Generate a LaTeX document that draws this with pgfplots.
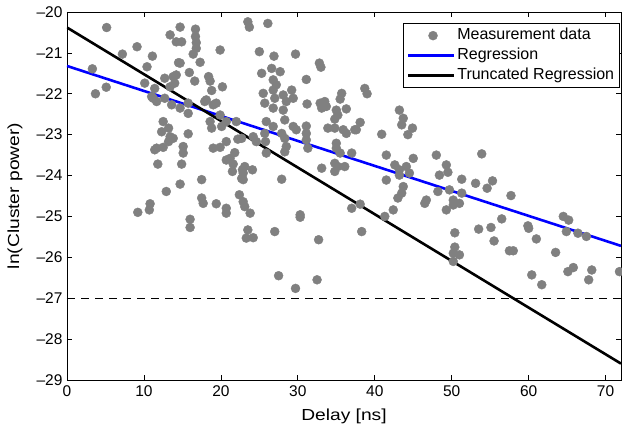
\documentclass[border=0pt]{standalone}
\usepackage{pgfplots}
\pgfplotsset{compat=1.18}
\usepackage{fontspec}
\setmainfont{Liberation Sans}
\newfontfamily\labelfont{Liberation Sans}[FakeStretch=1.2]
\definecolor{ptgray}{RGB}{128,128,128}
\pgfplotsset{
  lineleg/.style={legend image code/.code={\draw[##1] (0pt,0pt) -- (46pt,0pt);}},
  markleg/.style={legend image code/.code={\draw[##1] plot coordinates {(25pt,0pt)};}},
}
\begin{document}
\begin{tikzpicture}
\begin{axis}[
  scale only axis,
  width=554pt, height=368pt,
  xmin=0, xmax=72, ymin=-29, ymax=-20,
  xtick={0,10,...,70},
  ytick={-29,-28,...,-20},
  yticklabels={--29,--28,--27,--26,--25,--24,--23,--22,--21,--20},
  tick align=inside, tick pos=both,
  major tick length=5pt,
  axis line style={line width=0.9pt},
  every tick/.style={line width=0.7pt, black},
  tick label style={font=\fontsize{15.5}{18}\selectfont},
  xticklabel style={yshift=-2pt},
  yticklabel style={xshift=-1pt},
  /pgf/number format/assume math mode=true,
  xlabel={Delay [ns]},
  ylabel={ln(Cluster power)},
  label style={font=\labelfont\fontsize{16}{19}\selectfont},
  xlabel style={at={(axis description cs:0.5,-0.0997)}, anchor=center},
  ylabel style={at={(axis description cs:-0.0939,0.5)}, anchor=center},
  legend style={at={(axis cs:72,-20)}, anchor=north east, xshift=-1.5pt, yshift=-11.3pt,
    draw=black, line width=0.7pt, font=\fontsize{16}{19}\selectfont,
    inner xsep=3pt, inner ysep=2pt, row sep=0pt,
    nodes={inner sep=2pt, text height=12pt, text depth=4pt},
    cells={anchor=west}},
  legend cell align=left,
]
\addplot[only marks, mark=*, mark size=4.5pt, color=ptgray, mark options={solid, fill=ptgray, draw=ptgray, line width=0.4pt}, markleg] coordinates {
(3.3,-21.39) (3.7,-22.0) (5.1,-21.84) (5.15,-20.38) (7.2,-21.03) (9.1,-20.85) (9.2,-24.9)
(10.4,-21.34) (11.1,-21.08) (10.1,-21.74) (11.4,-21.87) (11.2,-22.11) (11.0,-22.07) (11.65,-22.19)
(12.7,-22.11) (13.6,-22.27) (14.7,-22.35) (12.7,-21.62) (13.8,-21.58) (14.2,-21.54) (14.0,-21.74)
(13.4,-21.83) (13.4,-20.56) (14.2,-20.73) (14.7,-20.37) (14.9,-20.73) (14.5,-21.24) (14.7,-21.25)
(12.5,-22.68) (13.2,-22.84) (12.3,-22.93) (13.4,-23.05) (13.8,-23.09) (11.4,-23.37) (12.5,-23.31)
(13.2,-23.17) (11.65,-23.33) (11.8,-23.72) (14.9,-23.72) (15.1,-23.29) (15.1,-23.45) (14.7,-24.21)
(12.9,-24.39) (10.8,-24.69) (10.7,-24.84)
(15.9,-21.48) (16.6,-21.69) (16.7,-20.42) (16.7,-20.6) (16.8,-20.75) (16.8,-20.89) (16.4,-21.03)
(17.3,-21.23) (18.4,-21.58) (18.6,-21.69) (18.8,-21.92) (20.2,-21.83) (19.9,-20.93) (15.75,-22.48)
(15.75,-22.23) (17.9,-22.19) (19.0,-22.27) (18.1,-22.15) (19.4,-22.23) (19.9,-22.52) (20.7,-22.68)
(22.0,-22.68) (18.8,-22.84) (20.1,-22.8) (18.6,-22.68) (15.75,-22.98) (19.0,-23.33) (19.9,-23.31)
(20.7,-23.17) (22.2,-23.11) (21.2,-23.58) (17.5,-24.1) (17.5,-24.55) (17.7,-24.68) (19.4,-24.69)
(20.7,-24.8) (20.7,-24.92) (16.0,-25.07) (16.0,-25.27) (20.7,-23.62) (21.6,-23.72) (21.5,-23.9)
(21.8,-23.44)
(23.5,-20.24) (23.7,-20.37) (25.0,-20.97) (25.3,-21.5) (24.2,-23.05) (24.6,-23.17) (22.7,-23.09)
(22.8,-23.86) (22.7,-24.07) (24.1,-23.86) (23.1,-23.78) (22.9,-23.94) (22.9,-24.1) (22.4,-24.47)
(22.9,-24.64) (23.1,-24.76) (23.8,-24.92) (23.5,-25.33) (23.3,-25.53) (24.2,-25.52)
(25.5,-21.99) (25.7,-22.23) (25.9,-22.68) (25.8,-23.17) (25.9,-23.45) (25.7,-22.97) (26.1,-20.28)
(26.9,-21.08) (26.6,-21.38) (27.7,-21.46) (26.8,-21.66) (27.2,-21.78) (26.8,-21.91) (27.0,-22.11)
(28.1,-22.03) (29.2,-21.91) (29.4,-22.11) (28.5,-22.19) (26.8,-22.35) (28.1,-22.4) (28.3,-22.64)
(26.8,-22.8) (27.9,-22.97) (28.3,-23.09) (28.5,-23.29) (28.3,-23.42) (27.9,-24.09) (27.0,-25.37)
(27.5,-26.45) (29.4,-22.8) (29.8,-22.88) (29.7,-21.03) (30.3,-24.96) (30.3,-25.02) (29.7,-26.76)
(31.1,-21.65) (31.2,-22.25) (31.1,-22.79) (31.1,-22.97) (31.1,-23.13) (31.3,-23.33) (32.8,-21.25)
(33.0,-21.35) (32.9,-22.23) (33.5,-22.19) (33.7,-22.31) (33.1,-22.35) (35.7,-21.99) (35.5,-22.13)
(35.0,-22.4) (36.3,-22.37) (35.2,-22.52) (34.8,-22.62) (33.9,-22.84) (34.8,-22.84) (35.9,-22.88)
(36.3,-22.97) (37.4,-22.88) (35.0,-23.21) (35.0,-23.33) (35.5,-23.45) (34.8,-23.7) (35.2,-23.78)
(34.8,-23.9) (36.1,-23.78) (37.0,-23.45) (33.1,-23.82) (32.7,-25.57) (32.5,-26.55) (37.0,-24.8)
(38.1,-24.7) (38.3,-25.37) (38.7,-21.87) (39.0,-22.0) (38.1,-22.7) (37.6,-22.88)
(40.9,-22.99) (43.2,-22.4) (43.7,-22.6) (43.5,-22.76) (44.9,-22.84) (44.3,-23.0) (41.5,-23.5)
(42.6,-23.74) (43.2,-23.86) (44.1,-23.78) (45.0,-23.58) (44.5,-23.94) (43.2,-23.99) (43.7,-24.27)
(43.5,-24.43) (43.0,-24.55) (41.5,-24.11) (41.3,-25.0) (42.4,-24.84) (46.7,-24.6) (46.5,-24.68)
(48.0,-23.5) (48.2,-24.39) (49.3,-23.74) (48.4,-23.99) (49.5,-23.92) (49.7,-24.35) (49.3,-24.84)
(51.3,-24.09) (53.1,-24.19) (55.3,-24.13) (54.6,-24.31) (57.7,-24.49) (51.3,-24.43) (50.2,-24.6)
(51.0,-24.68) (50.2,-24.72) (50.4,-25.4) (53.5,-25.31) (55.1,-25.27) (56.5,-25.06) (55.5,-25.6)
(50.4,-25.75) (50.2,-25.9) (51.0,-25.94) (50.2,-26.1) (57.5,-25.84) (58.0,-25.84) (59.9,-25.23)
(60.0,-25.29) (61.0,-25.55) (63.5,-25.88) (64.5,-25.0) (65.2,-25.09) (64.9,-25.37) (66.4,-25.41)
(67.5,-25.49) (60.4,-26.43) (61.7,-26.67) (65.1,-26.35) (65.8,-26.25) (68.2,-26.31) (67.8,-26.55)
(71.8,-26.35) (53.9,-23.47)
};
\addlegendentry{Measurement data}
\addplot[blue, line width=2.6pt, lineleg] coordinates {(0,-21.32) (72,-25.72)};
\addlegendentry{Regression}
\addplot[black, line width=2.6pt, lineleg] coordinates {(0,-20.38) (72,-28.6)};
\addlegendentry{Truncated Regression}
\addplot[black, line width=0.8pt, dash pattern=on 8pt off 6pt, forget plot] coordinates {(0,-27) (72,-27)};
\end{axis}
\pgfresetboundingbox
\path ([shift={(-67pt,-49pt)}]current axis.south west) rectangle ([shift={(1pt,12pt)}]current axis.north east);
\end{tikzpicture}
\end{document}
